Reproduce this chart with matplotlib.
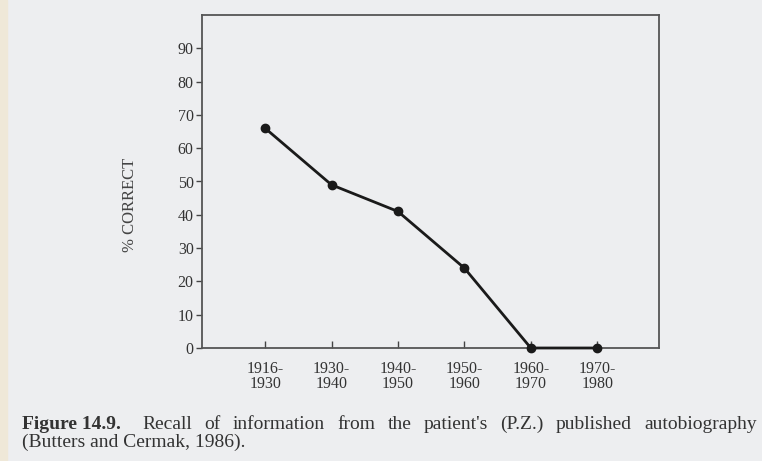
import matplotlib.pyplot as plt
from matplotlib.patches import Rectangle

periods = ['1916-\n1930', '1930-\n1940', '1940-\n1950', '1950-\n1960', '1960-\n1970', '1970-\n1980']
pct_correct = [66, 49, 41, 24, 0, 0]
y_ticks = [0, 10, 20, 30, 40, 50, 60, 70, 80, 90]

caption_num = 'Figure 14.9.'
caption_line1 = "Recall of information from the patient's (P.Z.) published autobiography"
caption_line2 = '(Butters and Cermak, 1986).'

plt.rcParams['font.family'] = ['Liberation Serif', 'DejaVu Serif']
W, H = 762, 461
bg = '#edeef0'
ink = '#333333'

fig = plt.figure(figsize=(W / 100, H / 100), dpi=100, facecolor=bg)
# beige page edge on the left
fig.patches.append(Rectangle((0, 0), 7 / W, 1, transform=fig.transFigure,
                             color='#efe8d8', zorder=0))

ax = fig.add_axes([202 / W, 1 - 348 / H, 457 / W, 333 / H])
ax.set_facecolor(bg)
x = list(range(len(periods)))
ax.plot(x, pct_correct, color='#1a1a1a', lw=2, marker='o', ms=6,
        clip_on=False, zorder=3)

ax.set_xlim(-0.95, 5.93)
ax.set_ylim(0, 100)
ax.set_xticks(x)
ax.set_xticklabels(periods, fontsize=11.5, linespacing=0.95, color=ink)
ax.set_yticks(y_ticks)
ax.set_yticklabels([str(v) for v in y_ticks], fontsize=11.5, color=ink)
ax.tick_params(axis='x', direction='in', length=5, width=1, color='#444444', pad=9)
ax.tick_params(axis='y', direction='out', length=4, width=1, color='#444444', pad=2)
for s in ax.spines.values():
    s.set_color('#555555')
    s.set_linewidth(1.3)

ax.set_ylabel('% CORRECT', fontsize=12, color='#444444')
ax.yaxis.set_label_coords(-0.14, 0.43)

# caption, first line justified to the right edge like the printed page
fig.text(22 / W, 1 - 429 / H, caption_num, fontsize=14, fontweight='bold',
         color=ink, va='baseline')
words = [fig.text(0, 1 - 429 / H, w, fontsize=14, color=ink, va='baseline')
         for w in caption_line1.split(' ')]
renderer = fig.canvas.get_renderer()
widths = [t.get_window_extent(renderer).width for t in words]
x0, x1 = 142, 757
gap = (x1 - x0 - sum(widths)) / (len(words) - 1)
pos = x0
for t, w in zip(words, widths):
    t.set_x(pos / W)
    pos += w + gap
fig.text(22 / W, 1 - 447 / H, caption_line2, fontsize=14, color=ink, va='baseline')

fig.savefig('out.png', dpi=100, facecolor=fig.get_facecolor())
